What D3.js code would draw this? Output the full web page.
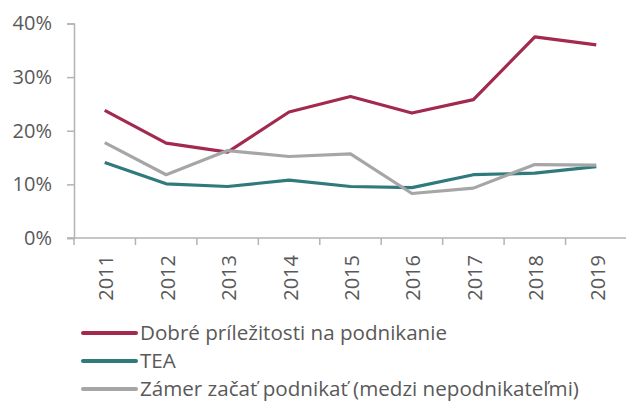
<!DOCTYPE html>
<meta charset="utf-8">
<style>
  body { margin: 0; background: #fff; }
  text { font-family: "Open Sans", "Liberation Sans", sans-serif; fill: #595959; }
</style>
<svg width="626" height="401"></svg>
<script src="https://d3js.org/d3.v7.min.js"></script>
<script>
  // data
  var years = ["2011", "2012", "2013", "2014", "2015", "2016", "2017", "2018", "2019"];
  var prilezitosti = [23.8, 17.7, 16.0, 23.5, 26.4, 23.3, 25.8, 37.5, 36.0];
  var tea = [14.1, 10.1, 9.6, 10.8, 9.6, 9.4, 11.8, 12.1, 13.3];
  var zamer = [17.8, 11.8, 16.3, 15.2, 15.7, 8.3, 9.3, 13.7, 13.6];
  var yTicks = [0, 10, 20, 30, 40];

  var series = [
    { name: "Dobré príležitosti na podnikanie", values: prilezitosti, color: "#a3294f" },
    { name: "TEA", values: tea, color: "#2f7a7d" },
    { name: "Zámer začať podnikať (medzi nepodnikateľmi)", values: zamer, color: "#a6a6a6" }
  ];

  var svg = d3.select("svg");
  var plotLeft = 74, plotRight = 627, plotTop = 23.5, plotBottom = 238;
  var axisColor = "#b3b3b3";
  var font = "Open Sans, Liberation Sans, sans-serif";

  var x = d3.scaleBand().domain(years).range([plotLeft, plotRight]);
  var y = d3.scaleLinear().domain([0, 40]).range([plotBottom, plotTop]);

  // y axis
  var yAxis = svg.append("g")
    .attr("transform", "translate(" + plotLeft + ",0)")
    .call(d3.axisLeft(y).tickValues(yTicks).tickSize(7).tickPadding(15)
      .tickFormat(function(d) { return d + "%"; }));
  yAxis.select(".domain").attr("stroke", axisColor).attr("stroke-width", 1.5);
  yAxis.selectAll(".tick line").attr("stroke", axisColor).attr("stroke-width", 1.5);
  yAxis.selectAll("text").attr("font-size", 20).attr("fill", "#595959")
    .style("font-family", font);

  // x axis
  var xAxis = svg.append("g")
    .attr("transform", "translate(0," + plotBottom + ")")
    .call(d3.axisBottom(x).tickSize(0).tickPadding(0));
  xAxis.select(".domain").remove();
  xAxis.append("line").attr("x1", plotLeft - 7).attr("x2", plotRight)
    .attr("stroke", axisColor).attr("stroke-width", 1.5);
  var edges = years.map(function(d) { return x(d); }).concat([plotRight]);
  xAxis.selectAll(".edge").data(edges).enter().append("line")
    .attr("x1", function(d) { return d; }).attr("x2", function(d) { return d; })
    .attr("y1", 0).attr("y2", 7)
    .attr("stroke", axisColor).attr("stroke-width", 1.5);
  xAxis.selectAll(".tick text")
    .attr("font-size", 20)
    .style("font-family", font)
    .attr("fill", "#595959")
    .attr("text-anchor", "end")
    .attr("dy", null)
    .attr("dominant-baseline", "central")
    .attr("transform", "translate(1,17) rotate(-90)");

  // lines
  var line = d3.line()
    .x(function(d, i) { return x(years[i]) + x.bandwidth() / 2; })
    .y(function(d) { return y(d); });

  svg.append("g").selectAll("path").data(series).enter().append("path")
    .attr("d", function(d) { return line(d.values); })
    .attr("fill", "none")
    .attr("stroke", function(d) { return d.color; })
    .attr("stroke-width", 3.2)
    .attr("stroke-linejoin", "round");

  // legend
  var legend = svg.append("g").selectAll("g").data(series).enter().append("g")
    .attr("transform", function(d, i) { return "translate(83," + (333 + i * 28) + ")"; });
  legend.append("line")
    .attr("x1", 0).attr("x2", 53)
    .attr("stroke", function(d) { return d.color; })
    .attr("stroke-width", 4)
    .attr("stroke-linecap", "round");
  legend.append("text")
    .attr("x", 57)
    .attr("dy", "0.35em")
    .attr("font-size", 20.6)
    .style("font-family", font)
    .text(function(d) { return d.name; });
</script>
